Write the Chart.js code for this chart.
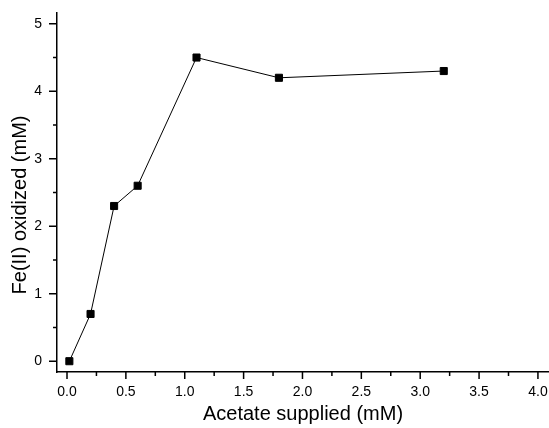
<!DOCTYPE html>
<html>
<head>
<meta charset="utf-8">
<script src="https://cdn.jsdelivr.net/npm/chart.js@4"></script>
<style>
  html, body { margin: 0; padding: 0; background: #fff; overflow: hidden; }
  #wrap { width: 555px; height: 428px; }
</style>
</head>
<body>
<div id="wrap"><canvas id="grafico"></canvas></div>
<script>
// dados
const acetato = [0.02, 0.2, 0.4, 0.6, 1.1, 1.8, 3.2];
const ferro = [0, 0.7, 2.3, 2.6, 4.5, 4.2, 4.3];
const xTicks = [0, 0.5, 1, 1.5, 2, 2.5, 3, 3.5, 4];
const yTicks = [0, 1, 2, 3, 4, 5];
const tituloX = 'Acetate supplied (mM)';
const tituloY = 'Fe(II) oxidized (mM)';

// ticks maiores/menores para fora + titulos dos eixos
const eixosPlugin = {
    id: 'eixos',
    afterDraw(chart) {
        const ctx = chart.ctx;
        const xs = chart.scales.x, ys = chart.scales.y;
        const area = chart.chartArea;
        ctx.save();
        ctx.strokeStyle = '#000';
        ctx.lineWidth = 1.5;
        ctx.beginPath();
        xTicks.forEach(function (v, i) {
            const p = xs.getPixelForValue(v);
            ctx.moveTo(p, area.bottom); ctx.lineTo(p, area.bottom + 7);
            if (i < xTicks.length - 1) {
                const m = xs.getPixelForValue(v + 0.25);
                ctx.moveTo(m, area.bottom); ctx.lineTo(m, area.bottom + 4);
            }
        });
        yTicks.forEach(function (v, i) {
            const p = ys.getPixelForValue(v);
            ctx.moveTo(area.left, p); ctx.lineTo(area.left - 8, p);
            if (i < yTicks.length - 1) {
                const m = ys.getPixelForValue(v + 0.5);
                ctx.moveTo(area.left, m); ctx.lineTo(area.left - 4, m);
            }
        });
        ctx.stroke();

        ctx.fillStyle = '#000';
        ctx.font = '20px "Liberation Sans"';
        ctx.textAlign = 'center';
        ctx.textBaseline = 'middle';
        ctx.fillText(tituloX, 303, 414);
        ctx.translate(20, 205);
        ctx.rotate(-Math.PI / 2);
        ctx.fillText(tituloY, 0, 0);
        ctx.restore();
    }
};

new Chart(document.getElementById('grafico').getContext('2d'), {
    type: 'line',
    data: {
        datasets: [{
            data: acetato.map(function (x, i) { return { x: x, y: ferro[i] }; }),
            borderColor: '#000',
            borderWidth: 1,
            backgroundColor: '#000',
            pointStyle: 'rect',
            pointRadius: 5,
            pointHoverRadius: 5,
            tension: 0
        }]
    },
    options: {
        responsive: true,
        maintainAspectRatio: false,
        animation: false,
        layout: { padding: { top: 13, right: 0, left: 0, bottom: 0 } },
        plugins: { legend: { display: false }, tooltip: { enabled: false } },
        scales: {
            x: {
                type: 'linear',
                min: -0.085,
                max: 4.094,
                afterBuildTicks(s) { s.ticks = xTicks.map(function (v) { return { value: v }; }); },
                afterFit(s) { s.height = 56; s.paddingLeft = 0; s.paddingRight = 0; },
                grid: { display: false, drawTicks: false },
                border: { display: true, color: '#000', width: 1.5 },
                ticks: {
                    padding: 12,
                    color: '#000',
                    font: { family: 'Liberation Sans', size: 14 },
                    callback: function (v) { return v.toFixed(1); }
                }
            },
            y: {
                type: 'linear',
                min: -0.16,
                max: 5.16,
                afterBuildTicks(s) { s.ticks = yTicks.map(function (v) { return { value: v }; }); },
                afterFit(s) { s.width = 57; s.paddingTop = 0; s.paddingBottom = 0; },
                grid: { display: false, drawTicks: false },
                border: { display: true, color: '#000', width: 1.5 },
                ticks: {
                    padding: 15,
                    color: '#000',
                    font: { family: 'Liberation Sans', size: 14 }
                }
            }
        }
    },
    plugins: [eixosPlugin]
});
</script>
</body>
</html>
